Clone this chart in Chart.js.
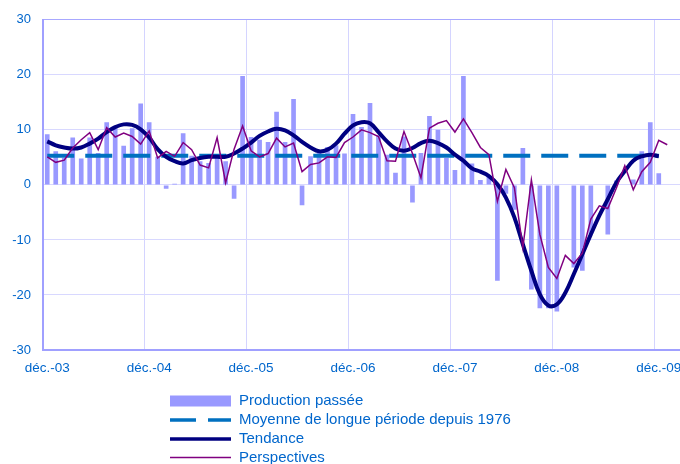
<!DOCTYPE html>
<html lang="fr">
<head>
<meta charset="UTF-8">
<title>Production passée, tendance et perspectives</title>
<script src="https://cdn.jsdelivr.net/npm/chart.js"></script>
<style>
  body { margin: 0; background: #fff; }
  #wrap { width: 680px; height: 464px; }
</style>
</head>
<body>
<div id="wrap"><canvas id="chart" width="680" height="464"></canvas></div>
<script>
// Mois de déc.-03 à févr.-10
const moisCourts = ['janv.', 'févr.', 'mars', 'avr.', 'mai', 'juin', 'juil.', 'août', 'sept.', 'oct.', 'nov.', 'déc.'];
const categories = [];
for (let i = 0; i < 75; i++) {
  const an = 3 + Math.floor((11 + i) / 12);
  categories.push(moisCourts[(11 + i) % 12] + '-' + String(an).padStart(2, '0'));
}

const yTicks = [-30, -20, -10, 0, 10, 20, 30];

const productionPassee = [
  9.2, 6.1, 4.9, 8.6, 4.8, 8.6, 5.8, 11.4, 10.7, 7.1, 10.3, 14.8,
  11.4, 5.1, -0.7, 0.2, 9.4, 5.3, 4.3, 4.0, 5.0, 4.3, -2.5, 19.8,
  8.7, 8.2, 7.8, 13.3, 7.8, 15.6, -3.7, 5.2, 5.8, 6.9, 7.2, 5.7,
  12.9, 10.5, 14.9, 9.0, 5.5, 2.2, 8.8, -3.2, 5.8, 12.5, 10.0, 4.9,
  2.7, 19.8, 3.9, 0.9, 1.5, -17.4, -1.6, -4.5, 6.7, -19.0, -22.4, -22.4,
  -23.0, null, -15.0, -15.6, -8.9, null, -9.0, 0.8, null, 1.0, 6.1, 11.4,
  2.1, null, null
];

const moyenneLongue = 5.3;

const tendance = [
  7.9, 7.2, 6.8, 6.6, 6.8, 7.5, 8.4, 9.6, 10.5, 11.0, 10.9, 10.1,
  8.6, 6.5, 5.1, 4.3, 3.9, 4.5, 4.9, 5.1, 5.1, 5.1, 5.7, 6.6,
  7.7, 8.9, 9.7, 10.2, 9.9, 9.0, 7.8, 6.8, 6.1, 6.4, 7.5, 9.3,
  10.8, 11.4, 11.2, 9.6, 7.9, 6.6, 6.2, 6.7, 7.6, 8.0, 7.6, 6.8,
  5.5, 4.4, 3.0, 2.4, 1.6, 0.1, -2.3, -5.9, -10.8, -15.6, -19.9, -21.9,
  -21.7, -19.6, -16.2, -12.6, -9.0, -5.6, -2.6, 0.4, 2.5, 4.4, 5.2, 5.5,
  5.2, null, null
];

const perspectives = [
  5.1, 4.1, 4.5, 6.7, 8.2, 9.5, 6.4, 10.4, 8.7, 9.4, 8.8, 7.4,
  9.8, 4.9, 6.1, 5.2, 7.7, 6.4, 3.6, 3.1, 8.6, 0.4, 6.5, 10.7,
  6.2, 5.1, 5.7, 8.5, 6.9, 7.6, 2.4, 3.7, 4.0, 5.1, 5.0, 7.7,
  8.7, 10.0, 9.5, 8.8, 4.4, 4.3, 9.7, 5.7, 1.3, 10.3, 11.2, 11.7,
  9.6, 12.0, 9.5, 6.8, 5.5, -3.0, 2.8, -0.5, -11.4, 0.9, -9.0, -15.0,
  -17.0, -12.8, -14.3, -12.4, -6.2, -3.8, -4.3, -0.6, 3.5, -0.9, 2.4, 4.1,
  8.1, 7.3, null
];

// la moyenne est tracée sur la même période que la tendance
const moyenne = tendance.map(v => (v === null ? null : moyenneLongue));

const police = '"Liberation Sans", Arial, sans-serif';
const bleuTexte = '#0066cc';

// Légende verticale sous le graphique
const legendeVerticale = {
  id: 'legendeVerticale',
  afterDraw(chart) {
    const ctx = chart.ctx;
    const x0 = 170, x1 = 231, xt = 239;
    const lignes = [401, 420, 439, 457.5];
    ctx.save();
    chart.data.datasets.forEach((ds, i) => {
      const y = lignes[i];
      ctx.setLineDash([]);
      if (ds.type === 'bar') {
        ctx.fillStyle = ds.backgroundColor;
        ctx.fillRect(x0, y - 5.5, x1 - x0, 11);
      } else {
        ctx.strokeStyle = ds.borderColor;
        ctx.lineWidth = ds.legendWidth;
        if (ds.borderDash) ctx.setLineDash([26, 12]);
        ctx.beginPath();
        ctx.moveTo(x0, y);
        ctx.lineTo(x1, y);
        ctx.stroke();
      }
      ctx.fillStyle = bleuTexte;
      ctx.font = '15px ' + police;
      ctx.textBaseline = 'middle';
      ctx.textAlign = 'left';
      ctx.fillText(ds.label, xt, y);
    });
    ctx.restore();
  }
};

new Chart(document.getElementById('chart'), {
  data: {
    labels: categories,
    datasets: [
      {
        type: 'bar',
        label: 'Production passée',
        data: productionPassee,
        backgroundColor: '#9999ff',
        barPercentage: 0.55,
        categoryPercentage: 1.0,
        order: 4
      },
      {
        type: 'line',
        label: 'Moyenne de longue période depuis 1976',
        data: moyenne,
        borderColor: '#0070c0',
        borderWidth: 4,
        borderDash: [27, 11],
        pointRadius: 0,
        legendWidth: 3.5,
        order: 3
      },
      {
        type: 'line',
        label: 'Tendance',
        data: tendance,
        borderColor: '#000080',
        borderWidth: 4,
        tension: 0.4,
        pointRadius: 0,
        legendWidth: 3.5,
        order: 2
      },
      {
        type: 'line',
        label: 'Perspectives',
        data: perspectives,
        borderColor: '#800080',
        borderWidth: 1.5,
        tension: 0,
        pointRadius: 0,
        legendWidth: 1.5,
        order: 1
      }
    ]
  },
  options: {
    responsive: false,
    animation: false,
    devicePixelRatio: 1,
    layout: { padding: { top: 18, right: 0, bottom: 90, left: 0 } },
    plugins: {
      legend: { display: false },
      tooltip: { enabled: false }
    },
    scales: {
      x: {
        offset: true,
        grid: {
          offset: true,
          drawTicks: false,
          color: ctx => (ctx.index % 12 === 0 ? '#d4d4ff' : 'transparent')
        },
        border: { color: '#a0a0ff', width: 2 },
        ticks: {
          autoSkip: false,
          maxRotation: 0,
          padding: 10,
          color: bleuTexte,
          font: { size: 13.5, family: police },
          callback: (v, i) => (i % 12 === 0 ? categories[i] : '')
        },
        afterFit: s => {
          s.height = 24;
          s.paddingLeft = 0;
          s.paddingRight = 0;
        }
      },
      y: {
        min: yTicks[0],
        max: yTicks[yTicks.length - 1],
        afterBuildTicks: s => { s.ticks = yTicks.map(v => ({ value: v })); },
        grid: {
          drawTicks: false,
          color: ctx => (ctx.tick && ctx.tick.value === 30 ? '#a8a8ff' : '#d8d8ff')
        },
        border: { color: '#a0a0ff', width: 2 },
        ticks: {
          padding: 12,
          color: bleuTexte,
          font: { size: 13, family: police }
        },
        afterFit: s => { s.width = 43; }
      }
    }
  },
  plugins: [legendeVerticale]
});
</script>
</body>
</html>
